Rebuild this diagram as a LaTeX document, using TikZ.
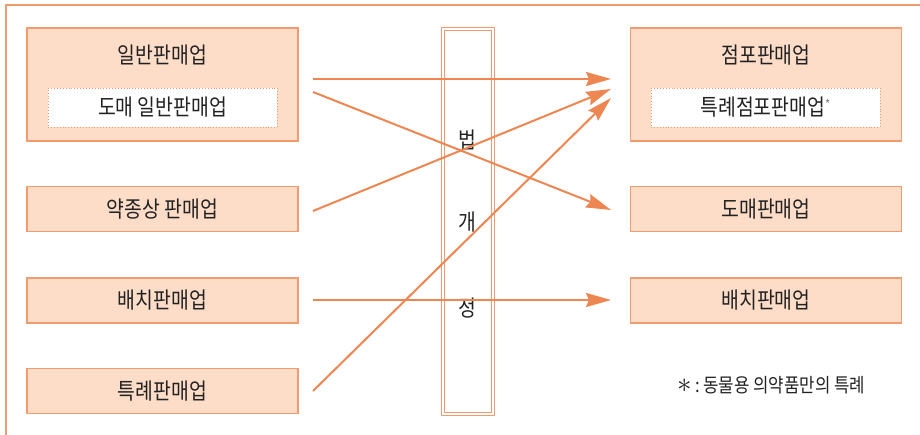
\documentclass[tikz,border=0pt]{standalone}
\usepackage{fontspec}
\setmainfont{Noto Sans CJK KR}[FakeStretch=0.86]
\usetikzlibrary{arrows.meta}
\definecolor{ln}{HTML}{EE8652}
\definecolor{bfill}{HTML}{FDDCC8}
\definecolor{bdraw}{HTML}{F29A70}
\definecolor{txtc}{HTML}{222222}
\tikzset{
  frame/.style={draw=bdraw, line width=2pt},
  bigbox/.style={draw=bdraw, fill=bfill, line width=1.6pt, minimum width=271pt, minimum height=113pt, inner sep=0pt},
  smallbox/.style={draw=bdraw, fill=bfill, line width=1.6pt, minimum width=271pt, minimum height=45pt, inner sep=0pt, font=\fontsize{22.5}{24}\selectfont, text=txtc},
  inbox/.style={draw=bdraw, fill=white, dotted, line width=0.9pt, minimum width=229pt, minimum height=39pt, inner sep=0pt, font=\fontsize{22.5}{24}\selectfont, text=txtc},
  txt/.style={inner sep=0pt, font=\fontsize{22.5}{24}\selectfont, text=txtc},
  column/.style={draw=bdraw, double=white, double distance=2pt, line width=0.9pt, minimum width=50pt, minimum height=385pt, inner sep=0pt},
  arr/.style={draw=ln, line width=2pt, -{Stealth[length=25pt, width=14pt, inset=3pt]}}
}
\begin{document}
\begin{tikzpicture}[x=1pt,y=-1pt]
\useasboundingbox (0,0) rectangle (920,435);
\draw[frame] (6,437) -- (6,5) -- (922,5);
% left boxes
\node[bigbox] (gen) at (162.5,84.5) {};
\node[txt] (gent) at (162.5,55) {일반판매업};
\node[inbox] (geni) at (162.5,107.5) {도매 일반판매업};
\node[smallbox] (yak) at (162.5,209) {약종상 판매업};
\node[smallbox] (bae) at (162.5,300.5) {배치판매업};
\node[smallbox] (tuk) at (162.5,391) {특례판매업};
% right boxes
\node[bigbox] (jeom) at (766,84.5) {};
\node[txt] (jeomt) at (766,55) {점포판매업};
\node[inbox] (jeomi) at (765.5,107.5) {특례점포판매업\raisebox{0.5ex}{\fontsize{13}{13}\selectfont\color{gray}*}};
\node[smallbox] (dom) at (766,209) {도매판매업};
\node[smallbox] (baer) at (766,300.5) {배치판매업};
% column
\node[column] (col) at (468,221.5) {};
\node[txt] (c1) at (467,140) {법};
\node[txt] (c2) at (467,222) {개};
\node[txt] (c3) at (467,308) {정};
% connector endpoints
\coordinate (a1s) at (313,79);  \coordinate (a1e) at (611,79);
\coordinate (a2s) at (313,92);  \coordinate (a2e) at (611,210);
\coordinate (a3s) at (313,211); \coordinate (a3e) at (611,89);
\coordinate (a4s) at (313,300); \coordinate (a4e) at (611,300);
\coordinate (a5s) at (313,391); \coordinate (a5e) at (611,98);
\draw[arr] (a1s) -- (a1e);
\draw[arr] (a2s) -- (a2e);
\draw[arr] (a3s) -- (a3e);
\draw[arr] (a4s) -- (a4e);
\draw[arr] (a5s) -- (a5e);
% legend
\node[txt, anchor=west, font=\fontsize{19.5}{21}\selectfont] (leg) at (677,385) {\scalebox{1.4}{$\ast$}\hspace{4pt}:\hspace{3pt}동물용 의약품만의 특례};
\end{tikzpicture}
\end{document}
